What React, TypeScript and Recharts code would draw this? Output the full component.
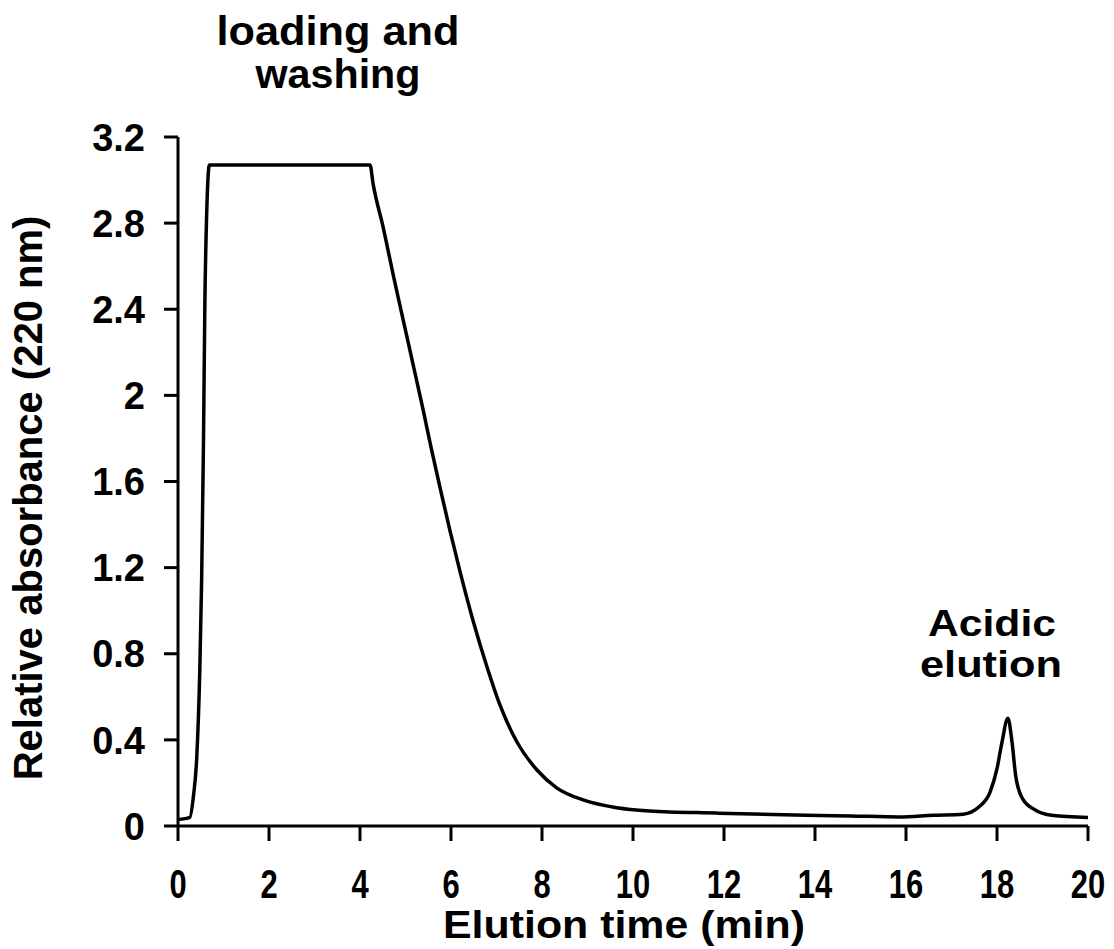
import React from 'react';
import { LineChart, Line, XAxis, YAxis } from 'recharts';

const elutionTime = [0, 0.26, 0.34, 0.41, 0.48, 0.52, 0.56, 0.59, 0.63, 0.69, 4.22, 4.29, 4.51, 4.73, 4.95, 5.17, 5.39, 5.57, 5.76, 5.98, 6.2, 6.49, 6.79, 7.08, 7.45, 7.89, 8.33, 8.92, 9.64, 10.37, 11.84, 13.3, 14.77, 15.86, 16.6, 17.26, 17.6, 17.85, 18.0, 18.11, 18.24, 18.33, 18.41, 18.56, 18.85, 19.2, 20];
const absorbance = [0.03, 0.04, 0.14, 0.31, 0.73, 1.15, 1.78, 2.42, 2.84, 3.07, 3.07, 2.98, 2.78, 2.56, 2.35, 2.14, 1.93, 1.75, 1.57, 1.37, 1.18, 0.95, 0.74, 0.56, 0.39, 0.26, 0.176, 0.12, 0.085, 0.07, 0.06, 0.052, 0.047, 0.042, 0.05, 0.055, 0.088, 0.158, 0.266, 0.39, 0.5, 0.39, 0.235, 0.127, 0.073, 0.05, 0.04];

const xTicks = [0, 2, 4, 6, 8, 10, 12, 14, 16, 18, 20];
const yTicks = [0, 0.4, 0.8, 1.2, 1.6, 2, 2.4, 2.8, 3.2];

const data = elutionTime.map((t, i) => ({ t, a: absorbance[i] }));

const FONT = '"Liberation Sans", Arial, sans-serif';

const XTick = (props: any) => {
  const { x, y, payload } = props;
  return (
    <g transform={`translate(${x},${y})`}>
      <text
        x={0}
        y={0}
        dy="0.71em"
        textAnchor="middle"
        transform="scale(0.86,1.12)"
        fontFamily={FONT}
        fontWeight="bold"
        fontSize={36}
        fill="#000"
      >
        {String(payload.value)}
      </text>
    </g>
  );
};

const YTick = (props: any) => {
  const { x, y, payload } = props;
  return (
    <text
      x={x}
      y={y}
      dy="0.36em"
      textAnchor="end"
      fontFamily={FONT}
      fontWeight="bold"
      fontSize={38}
      fill="#000"
    >
      {String(payload.value)}
    </text>
  );
};

export default function App() {
  return (
    <div style={{ position: 'absolute', left: 0, top: 0, width: 1114, height: 949, background: '#fff' }}>
      <LineChart
        width={1114}
        height={949}
        data={data}
        margin={{ top: 137, right: 26, bottom: 0, left: 0 }}
      >
        <XAxis
          dataKey="t"
          type="number"
          domain={[0, 20]}
          ticks={xTicks}
          interval={0}
          height={123}
          tickSize={15}
          tickMargin={28}
          tick={<XTick />}
          axisLine={{ stroke: '#000', strokeWidth: 3 }}
          tickLine={{ stroke: '#000', strokeWidth: 3 }}
        />
        <YAxis
          type="number"
          domain={[0, 3.2]}
          ticks={yTicks}
          interval={0}
          width={178}
          tickSize={14}
          tickMargin={19}
          tick={<YTick />}
          axisLine={{ stroke: '#000', strokeWidth: 3 }}
          tickLine={{ stroke: '#000', strokeWidth: 3 }}
        />
        <Line
          dataKey="a"
          type="monotone"
          stroke="#000"
          strokeWidth={3.5}
          dot={false}
          isAnimationActive={false}
        />
      </LineChart>
      <svg
        width={1114}
        height={949}
        style={{ position: 'absolute', left: 0, top: 0, pointerEvents: 'none' }}
      >
        <g fontFamily={FONT} fontWeight="bold" fill="#000">
          <text x={338} y={45} textAnchor="middle" fontSize={40} textLength={243} lengthAdjust="spacingAndGlyphs">loading and</text>
          <text x={338} y={88} textAnchor="middle" fontSize={40} textLength={165} lengthAdjust="spacingAndGlyphs">washing</text>
          <text x={992} y={636} textAnchor="middle" fontSize={36} textLength={128} lengthAdjust="spacingAndGlyphs">Acidic</text>
          <text x={991} y={677} textAnchor="middle" fontSize={36} textLength={142} lengthAdjust="spacingAndGlyphs">elution</text>
          <text x={624} y={938} textAnchor="middle" fontSize={38} textLength={362} lengthAdjust="spacingAndGlyphs">Elution time (min)</text>
          <text x={28} y={498} textAnchor="middle" dominantBaseline="central" fontSize={40} transform="rotate(-90, 28, 498)">Relative absorbance (220 nm)</text>
        </g>
      </svg>
    </div>
  );
}
